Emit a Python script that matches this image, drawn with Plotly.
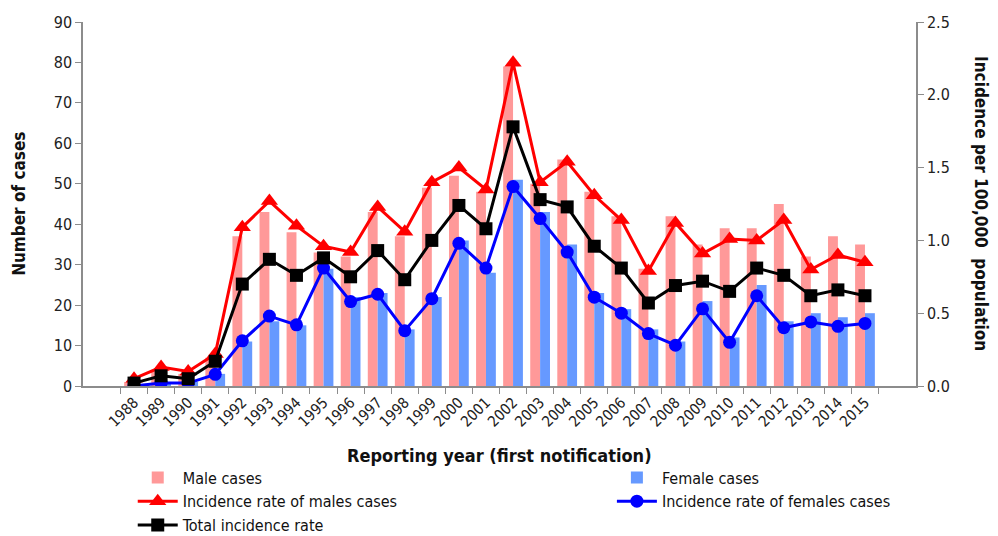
import plotly.graph_objects as go

years = [str(y) for y in range(1988, 2016)]
male_cases = [1, 4, 3, 7, 37, 43, 38, 33, 32, 43, 37, 49, 52, 48, 79, 50, 56, 48, 42, 29,
              42, 35, 39, 39, 45, 32, 37, 35]
female_cases = [0, 1, 1, 3, 11, 16, 15, 29, 22, 23, 14, 22, 36, 28, 51, 43, 35, 23, 19, 14,
                11, 21, 12, 25, 16, 18, 17, 18]
male_rate = [0.05, 0.13, 0.10, 0.22, 1.09, 1.27, 1.10, 0.96, 0.92, 1.23, 1.06, 1.40, 1.50,
             1.35, 2.22, 1.40, 1.54, 1.31, 1.14, 0.79, 1.12, 0.91, 1.01, 1.00, 1.14, 0.80,
             0.90, 0.85]
female_rate = [0.00, 0.02, 0.02, 0.08, 0.31, 0.48, 0.42, 0.81, 0.58, 0.63, 0.38, 0.60, 0.98,
               0.81, 1.37, 1.15, 0.92, 0.61, 0.50, 0.36, 0.28, 0.53, 0.30, 0.62, 0.40, 0.44,
               0.41, 0.43]
total_rate = [0.02, 0.07, 0.05, 0.17, 0.70, 0.87, 0.76, 0.88, 0.75, 0.93, 0.73, 1.00, 1.24,
              1.08, 1.78, 1.28, 1.23, 0.96, 0.81, 0.57, 0.69, 0.72, 0.65, 0.81, 0.76, 0.62,
              0.66, 0.62]

FONT = "DejaVu Sans Condensed, DejaVu Sans, sans-serif"
AX = "#8c8c8c"

fig = go.Figure()
fig.add_trace(go.Bar(x=years, y=male_cases, name="Male cases", legend="legend",
                     marker=dict(color="#ff9999", line=dict(width=0))))
fig.add_trace(go.Bar(x=years, y=female_cases, name="Female cases", legend="legend2",
                     marker=dict(color="#6699ff", line=dict(width=0))))
fig.add_trace(go.Scatter(x=years, y=male_rate, yaxis="y2", mode="lines+markers",
                         name="Incidence rate of males cases", legend="legend",
                         line=dict(color="#ff0000", width=3),
                         marker=dict(symbol="triangle-up", size=15, color="#ff0000")))
fig.add_trace(go.Scatter(x=years, y=female_rate, yaxis="y2", mode="lines+markers",
                         name="Incidence rate of females cases", legend="legend2",
                         line=dict(color="#0000ff", width=3),
                         marker=dict(symbol="circle", size=13, color="#0000ff")))
fig.add_trace(go.Scatter(x=years, y=total_rate, yaxis="y2", mode="lines+markers",
                         name="Total incidence rate", legend="legend",
                         line=dict(color="#000000", width=3),
                         marker=dict(symbol="square", size=13, color="#000000")))

leg_common = dict(orientation="v", xref="container", yref="container",
                  xanchor="left", yanchor="top", font=dict(size=16, family=FONT, color="#111"),
                  itemwidth=40, tracegroupgap=0, traceorder="normal",
                  bgcolor="rgba(0,0,0,0)")

fig.update_layout(
    width=990, height=528,
    margin=dict(l=75, r=82, t=14, b=150, autoexpand=False),
    paper_bgcolor="white", plot_bgcolor="white",
    font=dict(family=FONT, size=15, color="#222"),
    barmode="group", bargap=0.27, bargroupgap=0,
    showlegend=True,
    legend=dict(x=0.126, y=0.143, **leg_common),
    legend2=dict(x=0.610, y=0.143, **leg_common),
    xaxis=dict(type="category", showline=True, linecolor=AX, linewidth=1.5,
               ticks="outside", tickson="boundaries", ticklen=6, tickcolor=AX,
               tickangle=-45, tickfont=dict(size=15), showgrid=False, zeroline=False),
    yaxis=dict(range=[0, 90], dtick=10, showline=True, linecolor=AX, linewidth=1.5,
               ticks="outside", ticklen=6, tickcolor=AX, showgrid=False, zeroline=False,
               tickfont=dict(size=16)),
    yaxis2=dict(range=[0, 2.5], dtick=0.5, tickformat=".1f", overlaying="y", side="right",
                showline=True, linecolor=AX, linewidth=1.5, ticks="outside", ticklen=6,
                tickcolor=AX, showgrid=False, zeroline=False, tickfont=dict(size=16)),
    annotations=[
        dict(text="<b>Number of cases</b>", xref="paper", yref="paper", x=-0.077, y=0.5,
             textangle=-90, showarrow=False, font=dict(size=17, family=FONT, color="#111"),
             xanchor="center", yanchor="middle"),
        dict(text="<b>Incidence per 100,000  population</b>", xref="paper", yref="paper",
             x=1.078, y=0.5, textangle=90, showarrow=False,
             font=dict(size=17, family=FONT, color="#111"), xanchor="center", yanchor="middle"),
        dict(text="<b>Reporting year (first notification)</b>", xref="paper", yref="paper",
             x=0.5, y=-0.19, showarrow=False, font=dict(size=18, family=FONT, color="#111"),
             xanchor="center", yanchor="middle"),
    ],
)

fig.write_html("out.html")
